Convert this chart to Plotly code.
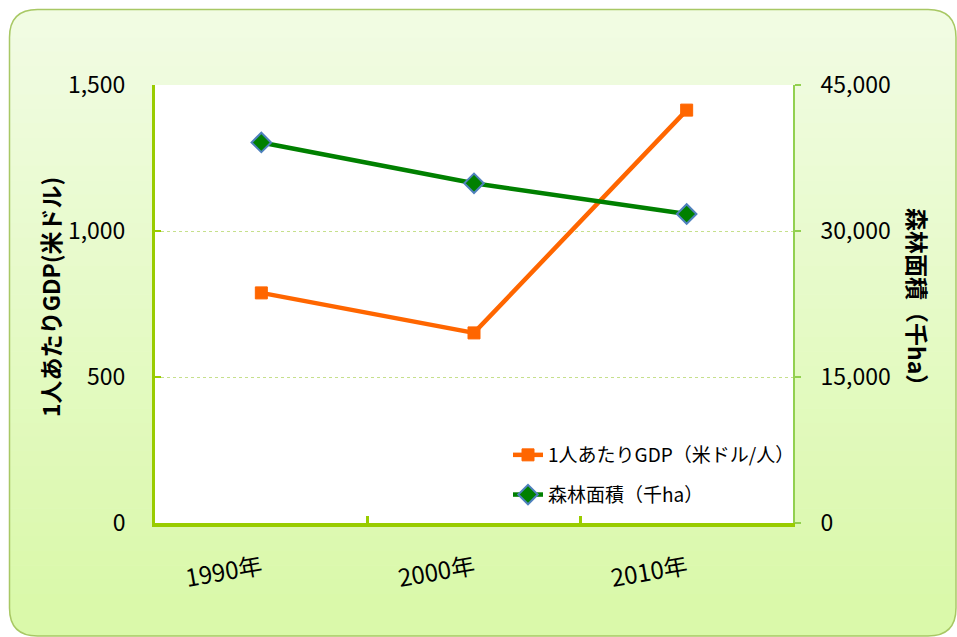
import plotly.graph_objects as go

years = ["1990年", "2000年", "2010年"]
gdp = [788, 651, 1414]
forest = [39100, 34900, 31750]
left_ticks = [0, 500, 1000, 1500]
right_ticks = [0, 15000, 30000, 45000]

W, H = 957, 637
# plot area in pixel coordinates
L, R, T, B = 155, 793, 85, 523

def px(x):
    return (x - L) / (R - L)

def py(y):
    return (B - y) / (B - T)

FONT = "Noto Sans CJK JP"

fig = go.Figure()
fig.add_trace(go.Scatter(
    x=years, y=gdp, name="1人あたりGDP（米ドル/人）", legendgroup="a",
    mode="lines+markers", line=dict(color="#ff6600", width=4.5),
    marker=dict(symbol="square", size=12, color="#ff6600", line=dict(color="#ff6600", width=1)),
    yaxis="y"))
fig.add_trace(go.Scatter(
    x=years, y=forest, name="森林面積（千ha）", legendgroup="b",
    mode="lines+markers", line=dict(color="#008000", width=4.5),
    marker=dict(symbol="diamond", size=15, color="#008000", line=dict(color="#4f81bd", width=2)),
    yaxis="y2"))

shapes = []
x0, y0, x1, y1, r = 9.5, 9.5, 956, 636, 28
def rr_path(x0, y0, x1, y1, r):
    return (f"M {px(x0+r)} {py(y0)} L {px(x1-r)} {py(y0)} Q {px(x1)} {py(y0)} {px(x1)} {py(y0+r)} "
            f"L {px(x1)} {py(y1-r)} Q {px(x1)} {py(y1)} {px(x1-r)} {py(y1)} "
            f"L {px(x0+r)} {py(y1)} Q {px(x0)} {py(y1)} {px(x0)} {py(y1-r)} "
            f"L {px(x0)} {py(y0+r)} Q {px(x0)} {py(y0)} {px(x0+r)} {py(y0)} Z")
top_c = (241, 252, 226)
bot_c = (218, 249, 170)
shapes.append(dict(type="path", xref="paper", yref="paper", path=rr_path(x0, y0, x1, y1, r),
                   fillcolor="rgb(%d,%d,%d)" % top_c, line=dict(width=0), layer="below"))
n = 40
ys0, ys1 = y0 + r, y1 - r
for i in range(n):
    a = ys0 + (ys1 - ys0) * i / n
    b = ys0 + (ys1 - ys0) * (i + 1) / n + 0.5
    t = (i + 0.5) / n
    c = tuple(int(top_c[k] + (bot_c[k] - top_c[k]) * t) for k in range(3))
    shapes.append(dict(type="rect", xref="paper", yref="paper", x0=px(x0 + 0.5), x1=px(x1 - 0.5),
                       y0=py(a), y1=py(b), fillcolor="rgb(%d,%d,%d)" % c, line=dict(width=0), layer="below"))
shapes.append(dict(type="path", xref="paper", yref="paper",
                   path=(f"M {px(x0)} {py(ys1)} L {px(x0)} {py(y1-r)} Q {px(x0)} {py(y1)} {px(x0+r)} {py(y1)} "
                         f"L {px(x1-r)} {py(y1)} Q {px(x1)} {py(y1)} {px(x1)} {py(y1-r)} Z"),
                   fillcolor="rgb(%d,%d,%d)" % bot_c, line=dict(width=0), layer="below"))
shapes.append(dict(type="path", xref="paper", yref="paper", path=rr_path(x0, y0, x1, y1, r),
                   fillcolor="rgba(0,0,0,0)", line=dict(color="#a8c864", width=1.5), layer="below"))
shapes.append(dict(type="rect", xref="paper", yref="paper", x0=0, x1=1, y0=0, y1=1,
                   fillcolor="white", line=dict(width=0), layer="below"))

fig.update_layout(
    width=W, height=H,
    margin=dict(l=L, r=W - R, t=T, b=H - B, pad=0),
    paper_bgcolor="white", plot_bgcolor="rgba(0,0,0,0)",
    font=dict(family=FONT, color="black", size=23),
    shapes=shapes,
    showlegend=True,
    legend=dict(x=px(508), y=py(436), xanchor="left", yanchor="top",
                bgcolor="rgba(0,0,0,0)", font=dict(size=19, family=FONT),
                tracegroupgap=12),
    xaxis=dict(type="category", range=[-0.5, 2.5], tickson="boundaries",
               showline=True, linecolor="#99cc00", linewidth=4,
               ticks="inside", ticklen=7, tickwidth=3, tickcolor="#99cc00",
               tickangle=-10, ticklabelstandoff=18, showgrid=False,
               tickfont=dict(size=24, family=FONT)),
    yaxis=dict(range=[0, 1500], tickvals=left_ticks, tickformat=",d",
               showline=True, linecolor="#99cc00", linewidth=3,
               ticks="inside", ticklen=6, tickwidth=2, tickcolor="#99cc00",
               showgrid=True, gridcolor="#c6e08c", griddash="dot", gridwidth=1,
               zeroline=False, ticklabelstandoff=22,
               tickfont=dict(size=23, family=FONT)),
    yaxis2=dict(range=[0, 45000], tickvals=right_ticks, tickformat=",d",
                overlaying="y", side="right",
                showline=True, linecolor="#92d050", linewidth=2,
                ticks="outside", ticklen=6, tickwidth=2, tickcolor="#92d050",
                showgrid=False, zeroline=False, ticklabelstandoff=15,
                tickfont=dict(size=23, family=FONT)),
    annotations=[
        dict(text="<b>1人あたりGDP(米ドル)</b>", xref="paper", yref="paper",
             x=px(50), y=py(297), textangle=-90, showarrow=False,
             font=dict(size=23, family=FONT), xanchor="center", yanchor="middle"),
        dict(text="<b>森林面積（千ha）</b>", xref="paper", yref="paper",
             x=px(918), y=py(302), textangle=90, showarrow=False,
             font=dict(size=23, family=FONT), xanchor="center", yanchor="middle"),
    ],
)

fig.write_html("out.html", config={"displayModeBar": False},
               post_script="document.body.style.margin='0';document.body.style.overflow='hidden';")
